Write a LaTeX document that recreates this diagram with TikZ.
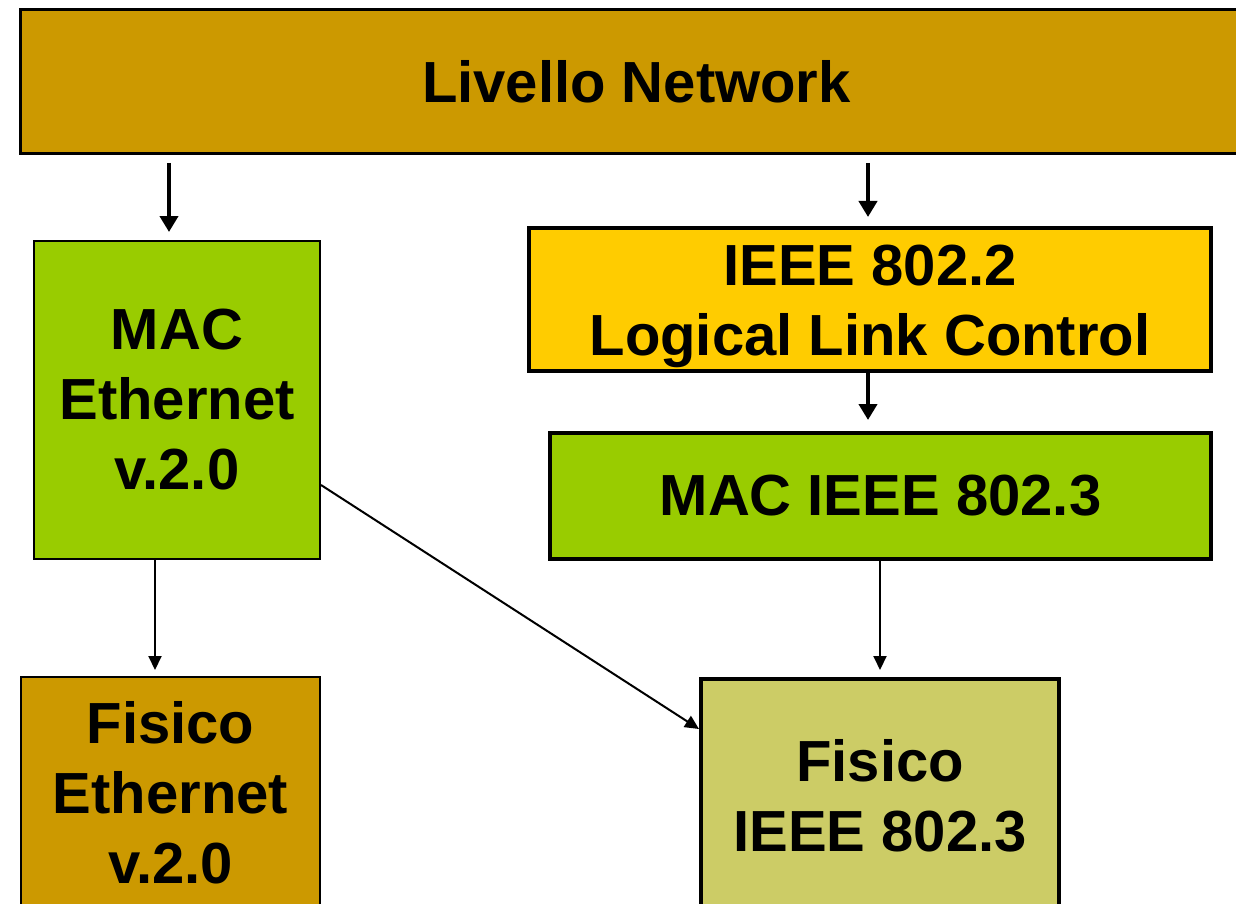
\documentclass[tikz,border=0pt]{standalone}
\usepackage{fontspec}
\setmainfont{Liberation Sans}
\usetikzlibrary{arrows.meta}
\definecolor{netgold}{HTML}{CC9900}
\definecolor{macgreen}{HTML}{99CC00}
\definecolor{llcyellow}{HTML}{FFCC00}
\definecolor{phyolive}{HTML}{CCCC66}
\tikzset{
  layer/.style={draw=black, rectangle, inner sep=0pt, anchor=north west,
    align=center, font=\bfseries\fontsize{58}{70}\selectfont},
  bigarrow/.style={line width=4pt, -{Triangle[width=18pt,length=16pt]}},
  smallarrow/.style={line width=2pt, -{Triangle[width=13pt,length=14pt]}},
}
\begin{document}
\begin{tikzpicture}[x=1pt, y=-1pt]
\useasboundingbox (0,0) rectangle (1236,904);
% layer boxes
\node[layer, fill=netgold, line width=3pt, minimum width=1232pt, minimum height=144pt]
  (net) at (19,8) {Livello Network};
\node[layer, fill=macgreen, line width=2pt, minimum width=286pt, minimum height=318pt]
  (mace) at (33,240) {MAC\\Ethernet\\v.2.0};
\node[layer, fill=llcyellow, line width=4pt, minimum width=682pt, minimum height=143pt]
  (llc) at (527,226) {\rule{0pt}{54pt}IEEE 802.2\\Logical Link Control};
\node[layer, fill=macgreen, line width=4pt, minimum width=661pt, minimum height=126pt]
  (maci) at (548,431) {MAC IEEE 802.3};
\node[layer, fill=netgold, line width=2pt, minimum width=299pt, minimum height=232pt]
  (fe) at (20,676) {Fisico\\Ethernet\\v.2.0};
\node[layer, fill=phyolive, line width=4pt, minimum width=358pt, minimum height=234pt]
  (fie) at (699,677) {Fisico\\IEEE 802.3};
% arrow columns
\coordinate (c1) at (169,0);
\coordinate (c2) at (868,0);
\coordinate (c3) at (155,0);
\coordinate (c4) at (880,0);
% connectors
\draw[bigarrow] ([yshift=-8pt]net.south -| c1) -- ([yshift=8pt]mace.north -| c1);
\draw[bigarrow] ([yshift=-8pt]net.south -| c2) -- ([yshift=9pt]llc.north -| c2);
\draw[bigarrow] (llc.south -| c2) -- ([yshift=11pt]maci.north -| c2);
\draw[smallarrow] (mace.south -| c3) -- ([yshift=6pt]fe.north -| c3);
\draw[smallarrow] (maci.south -| c4) -- ([yshift=7pt]fie.north -| c4);
\draw[smallarrow] ([yshift=-85pt]mace.east) -- ([yshift=67pt]fie.west);
\end{tikzpicture}
\end{document}
